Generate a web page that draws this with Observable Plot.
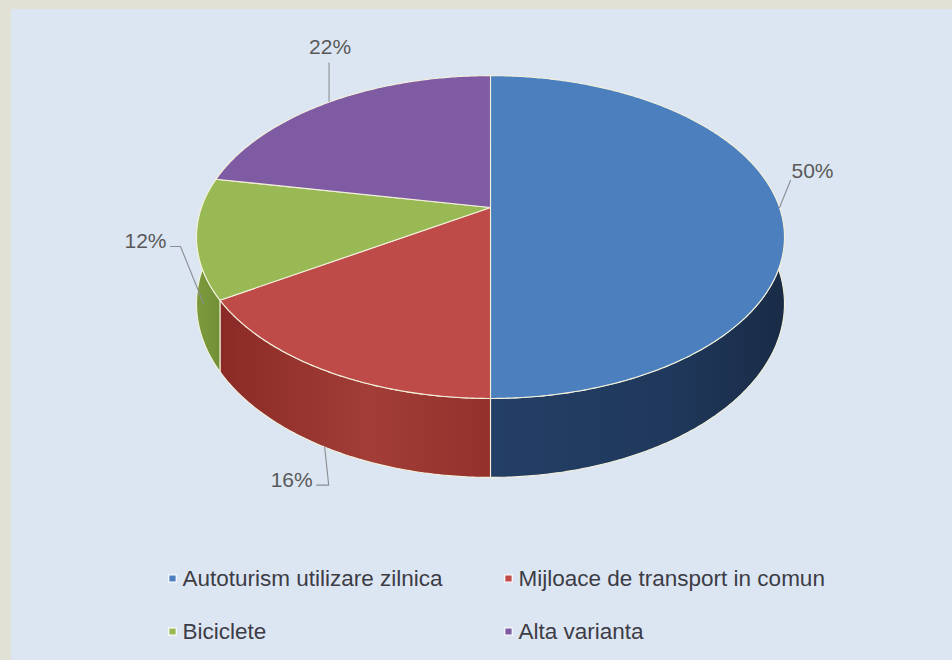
<!DOCTYPE html>
<html><head><meta charset="utf-8">
<script src="https://cdn.jsdelivr.net/npm/d3@7"></script>
<script src="https://cdn.jsdelivr.net/npm/@observablehq/plot@0.6"></script>
<style>
html,body{margin:0;padding:0;background:#e2e1d6;}
#wrap{position:relative;width:952px;height:660px;overflow:hidden;}
#panel{position:absolute;left:11px;top:9px;width:941px;height:651px;background:#dce6f2;}
#chart{position:absolute;left:0;top:0;}
</style></head><body>
<div id="wrap"><div id="panel"></div><div id="chart"></div></div>
<script>
// ---- data ----
const categories = ["Autoturism utilizare zilnica", "Mijloace de transport in comun", "Biciclete", "Alta varianta"];
const values = [50, 16, 12, 22];
const percentLabels = ["50%", "16%", "12%", "22%"];

// ---- style ----
const topColors = ["#4b7fbd", "#be4b48", "#98b954", "#7f5ba3"];
const sideFills = ["url(#sideBlue)", "url(#sideRed)", "url(#sideGreen)", "url(#sidePurple)"];
const edge = "#f3f1dc";
const font = "Liberation Sans, Arial, sans-serif";

// ---- geometry (layout) ----
const G = {cx: 490, cy: 207, R: 289, Ry: 156, k: 0.183, D: 64.5};
function proj(a, drop = 0) {
  const u = Math.sin(a), v = -Math.cos(a), s = 1 / (1 - G.k * v);
  return {x: G.cx + G.R * u * s, y: G.cy + (G.Ry * v + drop) * s};
}
function arcPts(a0, a1, drop = 0) {
  const n = Math.max(2, Math.ceil((a1 - a0) / 0.01));
  return d3.range(n + 1).map(i => proj(a0 + (a1 - a0) * i / n, drop));
}
const arcs = d3.pie().sort(null).value(d => d)(values);
const deg = Math.PI / 180;
const sideMin = 60 * deg, sideMax = 300 * deg;

const sidePolys = [], topPolys = [];
arcs.forEach((a, i) => {
  const s0 = Math.max(a.startAngle, sideMin), s1 = Math.min(a.endAngle, sideMax);
  if (s1 > s0) sidePolys.push({i, pts: [...arcPts(s0, s1), ...arcPts(s0, s1, G.D).reverse()]});
  topPolys.push({i, pts: [{x: G.cx, y: G.cy}, ...arcPts(a.startAngle, a.endAngle)]});
});

// leader layout per slice: anchor on top edge (0) or side bottom (D)
const leaderLayout = [
  {drop: 0, path: [[0, 0], [11, -27]], text: [33, -36], anchor: "middle"},
  {drop: G.D, path: [[0, 0], [4, 38], [-8, 38]], text: [-12, 33], anchor: "end"},
  {drop: G.D, path: [[7, -1], [-16, -58], [-26, -58]], text: [-30, -63], anchor: "end"},
  {drop: 0, path: [[0, -1], [0, -39]], text: [1, -55], anchor: "middle"}
];
const leaders = [], labelRows = [];
arcs.forEach((a, i) => {
  const L = leaderLayout[i];
  const p = proj((a.startAngle + a.endAngle) / 2, L.drop);
  L.path.forEach(([dx, dy]) => leaders.push({i, x: p.x + dx, y: p.y + dy}));
  labelRows.push({x: p.x + L.text[0], y: p.y + L.text[1], text: percentLabels[i], anchor: L.anchor});
});

// legend layout
const legendRows = categories.map((c, i) => ({
  name: c, color: topColors[i],
  x: [172, 508][i % 2], y: [578, 631][Math.floor(i / 2)]
}));

const marks = [
  ...sidePolys.map(p => Plot.line(p.pts, {x: "x", y: "y", curve: "linear-closed", fill: sideFills[p.i], stroke: edge, strokeWidth: 1.1})),
  ...topPolys.map(p => Plot.line(p.pts, {x: "x", y: "y", curve: "linear-closed", fill: topColors[p.i], stroke: edge, strokeWidth: 1.1})),
  Plot.line(leaders, {x: "x", y: "y", z: "i", stroke: "#8a8d92", strokeWidth: 1.1}),
  Plot.text(labelRows.filter(d => d.anchor === "middle"), {x: "x", y: "y", text: "text", textAnchor: "middle", fill: "#595959", fontSize: 21, fontFamily: font}),
  Plot.text(labelRows.filter(d => d.anchor === "end"), {x: "x", y: "y", text: "text", textAnchor: "end", fill: "#595959", fontSize: 21, fontFamily: font}),
  Plot.dot(legendRows, {x: "x", y: "y", symbol: "square", r: 4.2, fill: "color", stroke: "white", strokeWidth: 1.2}),
  Plot.text(legendRows, {x: d => d.x + 10, y: "y", text: "name", textAnchor: "start", fill: "#3c3c46", fontSize: 22.5, fontFamily: font})
];

const chart = Plot.plot({
  width: 952, height: 660,
  margin: 0,
  x: {type: "identity", axis: null},
  y: {type: "identity", axis: null},
  color: {type: "identity"},
  style: {background: "transparent", overflow: "visible"},
  marks
});

const defs = `
<defs>
 <linearGradient id="sideBlue" gradientUnits="userSpaceOnUse" x1="490" y1="0" x2="790" y2="0">
  <stop offset="0" stop-color="#243f66"/><stop offset="0.6" stop-color="#1f385b"/><stop offset="1" stop-color="#192b45"/>
 </linearGradient>
 <linearGradient id="sideRed" gradientUnits="userSpaceOnUse" x1="220" y1="0" x2="490" y2="0">
  <stop offset="0" stop-color="#8a2a26"/><stop offset="0.55" stop-color="#a23d37"/><stop offset="1" stop-color="#94312c"/>
 </linearGradient>
 <linearGradient id="sideGreen" gradientUnits="userSpaceOnUse" x1="196" y1="0" x2="225" y2="0">
  <stop offset="0" stop-color="#7c9b3d"/><stop offset="1" stop-color="#6f8c33"/>
 </linearGradient>
 <linearGradient id="sidePurple" gradientUnits="userSpaceOnUse" x1="0" y1="0" x2="1" y2="0">
  <stop offset="0" stop-color="#5f4380"/><stop offset="1" stop-color="#5f4380"/>
 </linearGradient>
</defs>`;
chart.insertAdjacentHTML("afterbegin", defs);
document.getElementById("chart").appendChild(chart);
</script>
</body></html>
